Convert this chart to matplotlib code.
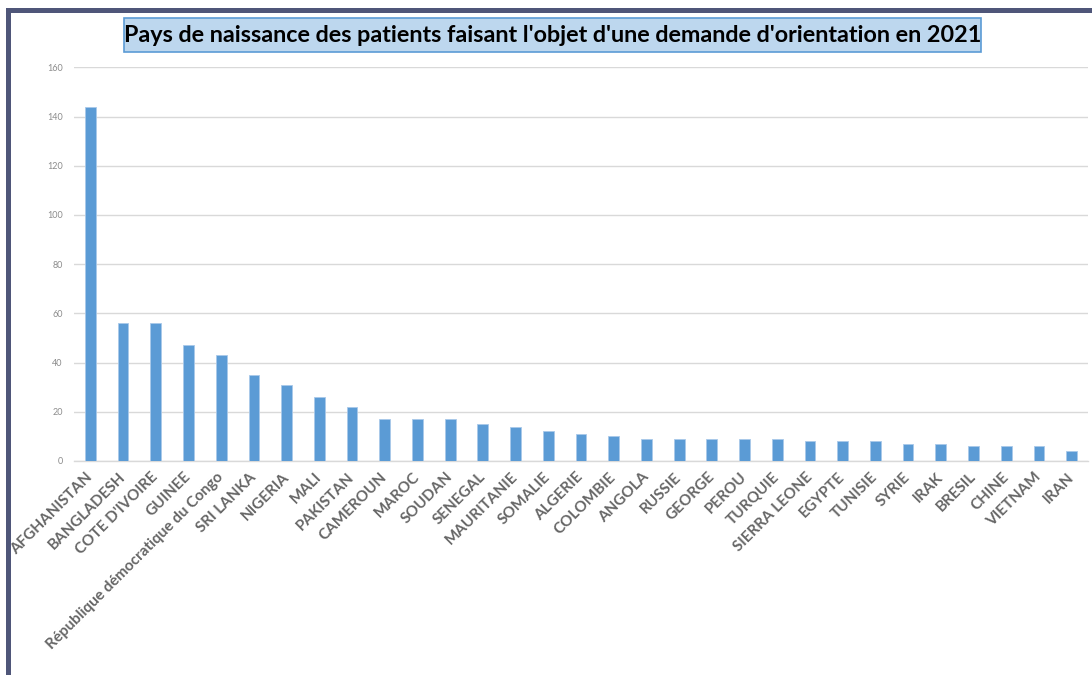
import matplotlib
matplotlib.use("Agg")
import matplotlib.pyplot as plt
from matplotlib.patches import Rectangle

countries = ["AFGHANISTAN", "BANGLADESH", "COTE D'IVOIRE", "GUINEE",
             "République démocratique du Congo", "SRI LANKA", "NIGERIA", "MALI",
             "PAKISTAN", "CAMEROUN", "MAROC", "SOUDAN", "SENEGAL", "MAURITANIE",
             "SOMALIE", "ALGERIE", "COLOMBIE", "ANGOLA", "RUSSIE", "GEORGE",
             "PEROU", "TURQUIE", "SIERRA LEONE", "EGYPTE", "TUNISIE", "SYRIE",
             "IRAK", "BRESIL", "CHINE", "VIETNAM", "IRAN"]
values = [144, 56, 56, 47, 43, 35, 31, 26, 22, 17, 17, 17, 15, 14, 12, 11, 10,
          9, 9, 9, 9, 9, 8, 8, 8, 7, 7, 6, 6, 6, 4]
yticks = [0, 20, 40, 60, 80, 100, 120, 140, 160]
title = "Pays de naissance des patients faisant l'objet d'une demande d'orientation en 2021"

W, H = 1092, 675
fig = plt.figure(figsize=(W / 100, H / 100), dpi=100)
fig.patch.set_facecolor("white")

def fx(x):
    return x / W

def fy(y):
    return 1 - y / H

# axes: x from 74 to 1088 px, y from 67.3 (160) to 461 (0)
ax = fig.add_axes([fx(74), fy(461), fx(1088) - fx(74), fy(67.3) - fy(461)])
n = len(countries)
xs = list(range(n))
ax.bar(xs, values, width=0.33, color="#5b9bd5", edgecolor="#a9c9ea",
       linewidth=0.6, zorder=3)
ax.set_xlim(-0.5, n - 0.5)
ax.set_ylim(0, 160)
ax.set_yticks(yticks)
ax.set_yticklabels([str(v) for v in yticks], fontsize=6.5, color="#8c8c8c",
                   family=["Lato", "DejaVu Sans"])
ax.tick_params(axis="y", length=0, pad=8)
ax.grid(axis="y", color="#d9d9d9", linewidth=1.0, zorder=0)
ax.set_axisbelow(True)
for s in ["top", "right", "left"]:
    ax.spines[s].set_visible(False)
ax.spines["bottom"].set_color("#d9d9d9")
ax.spines["bottom"].set_linewidth(1.0)
ax.set_xticks(xs)
ax.set_xticklabels(countries, rotation=45, ha="right", va="center",
                   rotation_mode="anchor", fontsize=11, color="#666666",
                   fontweight="bold", family=["Lato", "DejaVu Sans"])
ax.tick_params(axis="x", length=0, pad=10)

# frame border (screenshot frame)
fig.patches.append(Rectangle((fx(6), fy(13)), 1 - fx(6), fy(8) - fy(13),
                             transform=fig.transFigure, facecolor="#4f5679",
                             edgecolor="none", zorder=5))
fig.patches.append(Rectangle((fx(6), 0), fx(11) - fx(6), fy(8),
                             transform=fig.transFigure, facecolor="#4f5679",
                             edgecolor="none", zorder=5))

# title box
fig.patches.append(Rectangle((fx(124), fy(52)), fx(981) - fx(124), fy(18) - fy(52),
                             transform=fig.transFigure, facecolor="#bdd7ee",
                             edgecolor="#5b9bd5", linewidth=1.2, zorder=5))
fig.text(fx(552.5), fy(35.5), title, ha="center", va="center", fontsize=16.8,
         fontweight="bold", color="black", family=["Lato", "DejaVu Sans"],
         zorder=6)

fig.savefig("out.png", dpi=100)
